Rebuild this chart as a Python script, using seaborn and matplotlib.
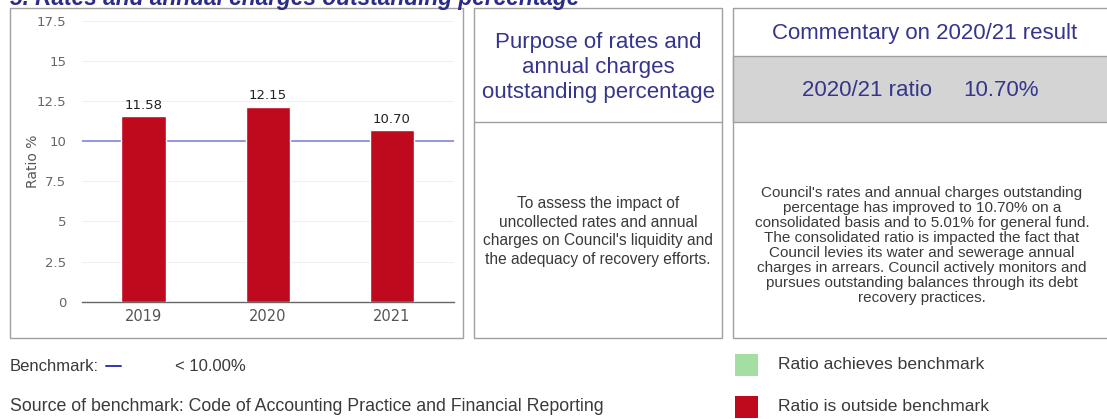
import matplotlib
matplotlib.use("Agg")
import matplotlib.pyplot as plt
import matplotlib.patches as mpatches
import pandas as pd
import seaborn as sns

# ---- data ----
years = ["2019", "2020", "2021"]
ratios = [11.58, 12.15, 10.70]
benchmark = 10.0
y_ticks = [0, 2.5, 5, 7.5, 10, 12.5, 15, 17.5]
y_tick_labels = ["0", "2.5", "5", "7.5", "10", "12.5", "15", "17.5"]

title = "5. Rates and annual charges outstanding percentage"
purpose_title = "Purpose of rates and\nannual charges\noutstanding percentage"
purpose_text = ("To assess the impact of\nuncollected rates and annual\n"
                "charges on Council's liquidity and\nthe adequacy of recovery efforts.")
comment_title = "Commentary on 2020/21 result"
ratio_label = "2020/21 ratio"
ratio_value = "10.70%"
comment_text = ("Council's rates and annual charges outstanding\n"
                "percentage has improved to 10.70% on a\n"
                "consolidated basis and to 5.01% for general fund.\n"
                "The consolidated ratio is impacted the fact that\n"
                "Council levies its water and sewerage annual\n"
                "charges in arrears. Council actively monitors and\n"
                "pursues outstanding balances through its debt\n"
                "recovery practices.")

BAR_RED = "#bf0a1e"
OK_GREEN = "#a3dea3"
NAVY = "#35358c"
TEXT = "#3a3a3a"
BORDER = "#a0a0a0"

sns.set_theme(style="white")
plt.rcParams["font.family"] = ["DejaVu Sans"]

W, H = 1107, 419
fig = plt.figure(figsize=(W / 100, H / 100), dpi=100)
fig.patch.set_facecolor("white")

# background layer in pixel coordinates for panels and captions
bg = fig.add_axes([0, 0, 1, 1], zorder=0)
bg.set_xlim(0, W)
bg.set_ylim(H, 0)
bg.axis("off")

def box(x0, y0, x1, y1, fc="none"):
    bg.add_patch(mpatches.Rectangle((x0, y0), x1 - x0, y1 - y0, fc=fc,
                                    ec=BORDER, lw=1.0))

# panels
box(10, 8, 463, 338)
box(474, 8, 722, 338)
bg.plot([474, 722], [122, 122], color=BORDER, lw=1.0)
box(733, 8, 1120, 338)
box(733, 56, 1120, 122, fc="#d4d4d4")

sans = ["Liberation Sans", "DejaVu Sans"]

bg.text(10, 5, title, fontsize=16.3, fontweight="bold", fontstyle="italic",
        color="#2b2b8a", va="baseline", ha="left", family=sans)

bg.text(598, 67.5, purpose_title, fontsize=16, color=NAVY, ha="center",
        va="center", linespacing=1.22, family=sans)
bg.text(598, 231.5, purpose_text, fontsize=11.2, color=TEXT, ha="center",
        va="center", linespacing=1.28, family=sans)

bg.text(925, 33, comment_title, fontsize=16, color=NAVY, ha="center",
        va="center", family=sans)
bg.text(867, 90, ratio_label, fontsize=16, color=NAVY, ha="center",
        va="center", family=sans)
bg.text(1001, 90, ratio_value, fontsize=16, color=NAVY, ha="center",
        va="center", family=sans)
bg.text(922, 245.5, comment_text, fontsize=11.0, color=TEXT, ha="center",
        va="center", linespacing=1.08, family=sans)

# footer
bg.text(10, 366, "Benchmark:", fontsize=12, color=TEXT, va="center", family=sans)
bg.plot([106, 121], [366, 366], color="#3434b0", lw=1.4)
bg.text(175, 366, "< 10.00%", fontsize=12, color=TEXT, va="center", family=sans)
bg.text(10, 406, "Source of benchmark: Code of Accounting Practice and Financial Reporting",
        fontsize=12.8, color=TEXT, va="center", family=sans)
bg.add_patch(mpatches.Rectangle((735, 354), 23, 22, fc=OK_GREEN, ec="none"))
bg.add_patch(mpatches.Rectangle((735, 396), 23, 22, fc=BAR_RED, ec="none"))
bg.text(778, 364, "Ratio achieves benchmark", fontsize=12.6, color=TEXT,
        va="center", family=sans)
bg.text(778, 406, "Ratio is outside benchmark", fontsize=12.6, color=TEXT,
        va="center", family=sans)

# chart
ax_left, ax_right = 81.7, 454.0
ax_top, ax_bottom = 20.7, 301.7
ax = fig.add_axes([ax_left / W, (H - ax_bottom) / H,
                   (ax_right - ax_left) / W, (ax_bottom - ax_top) / H], zorder=1)
ax.patch.set_alpha(0)

df = pd.DataFrame({"year": years, "ratio": ratios})
sns.barplot(data=df, x="year", y="ratio", color=BAR_RED, saturation=1,
            width=0.36, ax=ax, zorder=3)
ax.bar_label(ax.containers[0], fmt="%.2f", fontsize=9.5, color="#222222",
             padding=3)
ax.axhline(benchmark, color="#8c8ce6", lw=1.3, zorder=2)

ax.set_xlim(-0.5, len(years) - 0.5)
ax.set_ylim(0, 17.5)
ax.set_yticks(y_ticks)
ax.set_yticklabels(y_tick_labels)
ax.grid(axis="y", color="#f0f0f0", lw=0.8, zorder=0)
ax.set_axisbelow(True)
for s in ["top", "right", "left"]:
    ax.spines[s].set_visible(False)
ax.spines["bottom"].set_color("#666666")
ax.spines["bottom"].set_linewidth(1.0)
ax.tick_params(axis="y", length=0, labelsize=9.5, labelcolor="#666666", pad=11)
ax.tick_params(axis="x", length=0, labelsize=10.5, labelcolor="#555555", pad=5)
ax.set_xticks([-0.5, 0.5, 1.5, 2.5], minor=True)
ax.tick_params(axis="x", which="minor", length=4, color="#e0e0e0", width=0.8)
ax.set_xlabel("")
ax.set_ylabel("Ratio %", fontsize=10, color="#555555", labelpad=-2)

fig.savefig("out.png", dpi=100, facecolor="white")
